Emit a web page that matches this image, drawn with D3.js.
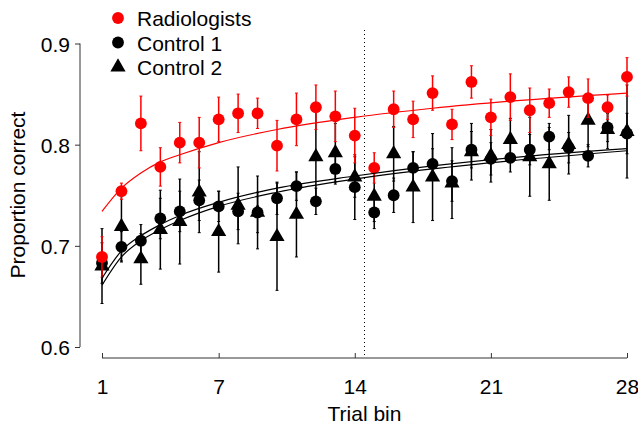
<!DOCTYPE html>
<html>
<head>
<meta charset="utf-8">
<script src="https://cdn.jsdelivr.net/npm/d3@7"></script>
<style>
  body { margin: 0; background: #fff; }
  svg { font-family: "Liberation Sans", Arial, sans-serif; }
</style>
</head>
<body>
<div id="my_dataviz"></div>
<script>
// trial bins and proportion correct
var bins = d3.range(1, 29);

var radiologists = [0.689, 0.754, 0.821, 0.778, 0.802, 0.802, 0.825, 0.831, 0.831, 0.799,
  0.825, 0.837, 0.828, 0.809, 0.777, 0.835, 0.825, 0.851, 0.820, 0.862,
  0.827, 0.847, 0.834, 0.841, 0.852, 0.846, 0.837, 0.867];
var radiologistsErr = [0.020, 0.008, 0.027, 0.019, 0.020, 0.025, 0.022, 0.019, 0.015, 0.025,
  0.026, 0.022, 0.025, 0.027, 0.015, 0.018, 0.018, 0.017, 0.015, 0.016,
  0.018, 0.023, 0.022, 0.014, 0.015, 0.019, 0.012, 0.019];

var control1 = [0.683, 0.699, 0.705, 0.727, 0.734, 0.745, 0.739, 0.734, 0.733, 0.747,
  0.759, 0.744, 0.776, 0.758, 0.733, 0.750, 0.777, 0.781, 0.764, 0.795,
  0.786, 0.787, 0.795, 0.808, 0.797, 0.789, 0.817, 0.811];
var control1Err = [0.020, 0.015, 0.016, 0.020, 0.020, 0.020, 0.015, 0.018, 0.020, 0.016,
  0.014, 0.013, 0.015, 0.032, 0.016, 0.017, 0.016, 0.015, 0.020, 0.018,
  0.016, 0.014, 0.015, 0.013, 0.015, 0.011, 0.014, 0.020];

var control2 = [0.680, 0.719, 0.687, 0.716, 0.724, 0.753, 0.714, 0.740, 0.733, 0.709,
  0.731, 0.788, 0.792, 0.768, 0.749, 0.791, 0.758, 0.768, 0.762, 0.793,
  0.789, 0.805, 0.788, 0.781, 0.800, 0.824, 0.815, 0.813];
var control2Err = [0.037, 0.034, 0.025, 0.039, 0.042, 0.040, 0.040, 0.038, 0.036, 0.053,
  0.042, 0.046, 0.029, 0.020, 0.025, 0.027, 0.035, 0.043, 0.035, 0.028,
  0.026, 0.021, 0.039, 0.036, 0.029, 0.026, 0.019, 0.046];

// fitted curves, read at a few bins
var fitBins = [1, 2, 3, 4, 5, 7, 10, 14, 18, 22, 28];
var fitRadiologists = [0.734, 0.757, 0.772, 0.783, 0.790, 0.802, 0.815, 0.827, 0.836, 0.843, 0.851];
var fitControl1 = [0.668, 0.695, 0.710, 0.721, 0.730, 0.743, 0.757, 0.769, 0.779, 0.787, 0.796];
var fitControl2 = [0.661, 0.689, 0.705, 0.716, 0.725, 0.739, 0.753, 0.766, 0.776, 0.784, 0.794];

var xTicks = [1, 7, 14, 21, 28];
var yTicks = [0.6, 0.7, 0.8, 0.9];
var splitBin = 14.5;

var fontSize = 21;

var svg = d3.select("#my_dataviz")
  .append("svg")
  .attr("width", 638)
  .attr("height", 426);

var x = d3.scaleLinear().domain([1, 28]).range([102, 627]);
var y = d3.scaleLinear().domain([0.6, 0.9]).range([347, 43.5]);

// Y axis
svg.append("g")
  .attr("transform", "translate(80,0)")
  .call(d3.axisLeft(y).tickValues(yTicks).tickFormat(d3.format(".1f")).tickSize(5).tickPadding(5))
  .call(g => g.select(".domain").attr("d", "M0," + y(0.6) + "V" + y(0.9)))
  .call(g => g.selectAll("line, path").attr("stroke", "#333"))
  .call(g => g.selectAll("text").attr("font-size", fontSize).attr("fill", "#000").attr("font-family", null).attr("dy", "0.36em"));

// X axis, ticks pointing up
svg.append("g")
  .attr("transform", "translate(0,358)")
  .call(d3.axisTop(x).tickValues(xTicks).tickSize(5))
  .call(g => g.select(".domain").attr("d", "M" + x(1) + ",0H" + x(28)))
  .call(g => g.selectAll("line, path").attr("stroke", "#333"))
  .call(g => g.selectAll("text").attr("font-size", fontSize).attr("fill", "#000").attr("font-family", null)
    .attr("y", 36).attr("dy", null));

// axis titles
svg.append("text")
  .attr("x", x(14.5)).attr("y", 421)
  .attr("text-anchor", "middle").attr("font-size", fontSize)
  .text("Trial bin");
svg.append("text")
  .attr("transform", "translate(25,195)rotate(-90)")
  .attr("text-anchor", "middle").attr("font-size", fontSize)
  .text("Proportion correct");

// dotted split line
svg.append("line")
  .attr("x1", x(splitBin)).attr("x2", x(splitBin))
  .attr("y1", 30).attr("y2", 357)
  .attr("stroke", "#000").attr("stroke-width", 1)
  .attr("stroke-dasharray", "1,3");

var fitLine = d3.line()
  .x(function(d) { return x(d[0]); })
  .y(function(d) { return y(d[1]); })
  .curve(d3.curveMonotoneX);

function drawSeries(vals, errs, color, shape) {
  var data = bins.map(function(b, i) { return {b: b, v: vals[i], e: errs[i]}; });
  var g = svg.append("g");
  // error bars
  g.selectAll("bar").data(data).enter().append("line")
    .attr("x1", function(d) { return x(d.b); })
    .attr("x2", function(d) { return x(d.b); })
    .attr("y1", function(d) { return y(d.v - d.e); })
    .attr("y2", function(d) { return y(d.v + d.e); })
    .attr("stroke", color).attr("stroke-width", 1.5);
  // small caps
  g.selectAll("cap").data(data.concat(data.map(function(d) { return {b: d.b, v: d.v, e: -d.e}; })))
    .enter().append("line")
    .attr("x1", function(d) { return x(d.b) - 1.5; })
    .attr("x2", function(d) { return x(d.b) + 1.5; })
    .attr("y1", function(d) { return y(d.v + d.e); })
    .attr("y2", function(d) { return y(d.v + d.e); })
    .attr("stroke", color).attr("stroke-width", 1);
  // markers
  g.selectAll("pt").data(data).enter().append("path")
    .attr("transform", function(d) { return "translate(" + x(d.b) + "," + y(d.v) + ")"; })
    .attr("d", d3.symbol().type(shape).size(shape === d3.symbolTriangle ? 100 : 110))
    .attr("fill", color);
}

drawSeries(control2, control2Err, "#000", d3.symbolTriangle);
drawSeries(control1, control1Err, "#000", d3.symbolCircle);
drawSeries(radiologists, radiologistsErr, "#ff0000", d3.symbolCircle);

// fitted curves
[[fitControl1, "#000"], [fitControl2, "#000"], [fitRadiologists, "#ff0000"]].forEach(function(f) {
  svg.append("path")
    .datum(fitBins.map(function(b, i) { return [b, f[0][i]]; }))
    .attr("d", fitLine)
    .attr("fill", "none")
    .attr("stroke", f[1])
    .attr("stroke-width", 1.2);
});

// legend
var legend = [
  {label: "Radiologists", color: "#ff0000", shape: d3.symbolCircle},
  {label: "Control 1", color: "#000", shape: d3.symbolCircle},
  {label: "Control 2", color: "#000", shape: d3.symbolTriangle}
];
var lg = svg.selectAll("leg").data(legend).enter().append("g")
  .attr("transform", function(d, i) { return "translate(118," + (18 + i * 24.5) + ")"; });
lg.append("path")
  .attr("d", function(d) { return d3.symbol().type(d.shape).size(d.shape === d3.symbolTriangle ? 100 : 110)(); })
  .attr("fill", function(d) { return d.color; });
lg.append("text")
  .attr("x", 19).attr("y", 8)
  .attr("font-size", fontSize)
  .text(function(d) { return d.label; });
</script>
</body>
</html>
